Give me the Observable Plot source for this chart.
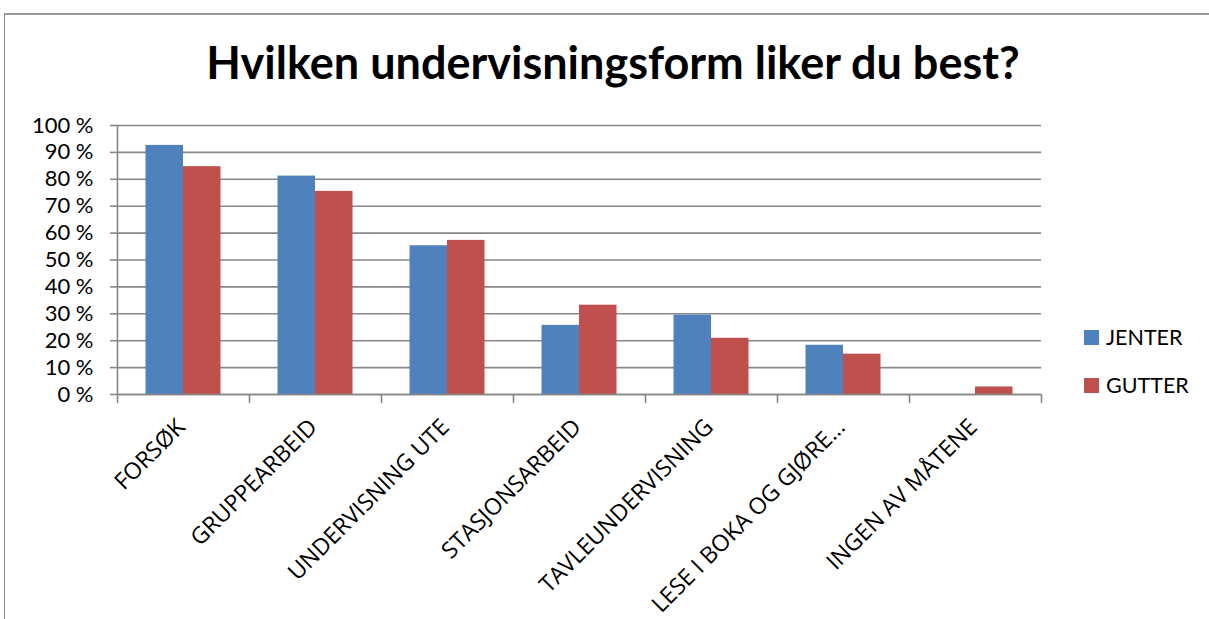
<!DOCTYPE html>
<html>
<head>
<meta charset="utf-8">
<script src="https://cdn.jsdelivr.net/npm/d3@7"></script>
<script src="https://cdn.jsdelivr.net/npm/@observablehq/plot@0.6"></script>
<style>
  html, body { margin: 0; padding: 0; background: #fff; }
  #wrap { position: relative; width: 1209px; height: 619px; overflow: hidden; }
  #border { position: absolute; left: 4px; top: 13px; right: -10px; bottom: -10px; border-top: 2px solid #9a9a9a; border-left: 1px solid #8a8a8a; }
  #title { position: absolute; left: 0; width: 1226px; top: 35px; text-align: center; font-family: Lato, sans-serif; font-weight: 700; font-size: 45px; color: #000; }
  .leg { position: absolute; left: 1084px; font-family: Lato, sans-serif; font-size: 21.5px; color: #000; display: flex; align-items: center; }
  .leg span.sw { width: 15px; height: 15px; display: inline-block; margin-right: 7px; }
  #chart { position: absolute; left: 0; top: 0; }
</style>
</head>
<body>
<div id="wrap">
  <div id="border"></div>
  <div id="title">Hvilken undervisningsform liker du best?</div>
  <div id="chart"></div>
  <div id="legend"></div>
</div>
<script>
const categories = ["FORSØK", "GRUPPEARBEID", "UNDERVISNING UTE", "STASJONSARBEID", "TAVLEUNDERVISNING", "LESE I BOKA OG GJØRE…", "INGEN AV MÅTENE"];
const series = ["JENTER", "GUTTER"];
const jenter = [92.6, 81.2, 55.3, 25.7, 29.5, 18.3, 0];
const gutter = [84.7, 75.5, 57.3, 33.2, 20.9, 15.0, 2.8];
const yTicks = [0, 10, 20, 30, 40, 50, 60, 70, 80, 90, 100];
const colors = ["#4F81BD", "#C0504D"];

const dataJ = categories.map((c, i) => ({category: c, series: "JENTER", value: jenter[i]}));
const dataG = categories.map((c, i) => ({category: c, series: "GUTTER", value: gutter[i]}));

const W = 1209, H = 619;
const mL = 117, mR = 168, mT = 125, mB = 225;
const step = (W - mL - mR) / categories.length;
const barW = 37.5;
const inset = (step - barW) / 2;
const gridColor = "#878787";

const plot = Plot.plot({
  width: W,
  height: H,
  marginLeft: mL,
  marginRight: mR,
  marginTop: mT,
  marginBottom: mB,
  style: {background: "transparent", overflow: "visible"},
  x: {domain: categories, padding: 0, axis: null},
  y: {domain: [0, 100], axis: null},
  marks: [
    Plot.gridY(yTicks, {stroke: gridColor, strokeOpacity: 1, strokeWidth: 1.6}),
    Plot.axisY(yTicks, {
      label: null,
      tickSize: 7, tickPadding: 17, stroke: gridColor, strokeWidth: 1.6,
      tickFormat: d => d + " %", fontSize: 22, fontFamily: "Lato, sans-serif", fill: "#000"
    }),
    Plot.barY(dataJ, {x: "category", y: "value", fill: colors[0], insetLeft: inset, insetRight: inset, dx: -barW / 2}),
    Plot.barY(dataG, {x: "category", y: "value", fill: colors[1], insetLeft: inset, insetRight: inset, dx: barW / 2}),
    Plot.ruleX(categories, {x: d => d, dx: -step / 2, y1: 0, y2: 0, insetBottom: -9, stroke: gridColor, strokeWidth: 1.6}),
    Plot.ruleX(categories.slice(-1), {x: d => d, dx: step / 2, y1: 0, y2: 0, insetBottom: -9, stroke: gridColor, strokeWidth: 1.6}),
    Plot.ruleX(categories.slice(0, 1), {x: d => d, dx: -step / 2, y1: 0, y2: 100, stroke: gridColor, strokeWidth: 1.6}),
    Plot.ruleY([0], {stroke: gridColor, strokeWidth: 1.6}),
    Plot.text(categories, {
      x: d => d, frameAnchor: "bottom", rotate: -45, textAnchor: "end",
      dx: 3, dy: 34, fontSize: 23, fontFamily: "Open Sans", fill: "#000"
    })
  ]
});
document.getElementById("chart").appendChild(plot);

const legend = document.getElementById("legend");
series.forEach((s, i) => {
  const d = document.createElement("div");
  d.className = "leg";
  d.style.top = (324 + i * 48) + "px";
  d.innerHTML = `<span class="sw" style="background:${colors[i]}"></span>${s}`;
  legend.appendChild(d);
});
</script>
</body>
</html>
